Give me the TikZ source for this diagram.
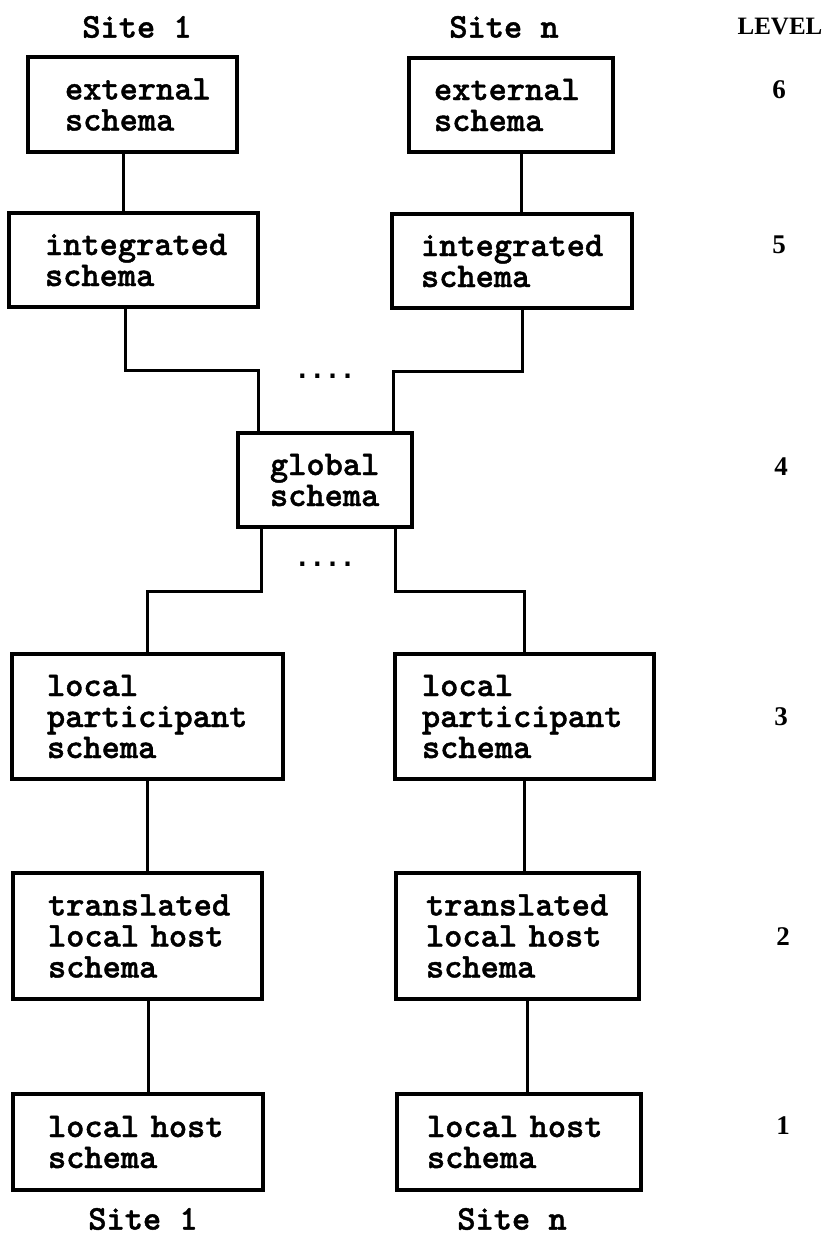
\documentclass[tikz,border=0pt]{standalone}
\usepackage{fontspec}
\newfontfamily\levelfont{Liberation Serif}
\newfontfamily\typewfont{lmmonolt10-bold.otf}[FakeBold=1.2]
\newfontfamily\dotfont{DejaVu Sans Mono}
\tikzset{
  schemabox/.style={draw, line width=3.5pt, inner ysep=0pt, align=left,
    font=\typewfont\fontsize{34.7}{31}\selectfont},
  conn/.style={line width=3pt, line join=miter},
  sitelabel/.style={inner sep=0pt, font=\typewfont\fontsize{34.7}{31}\selectfont},
  levellabel/.style={inner sep=0pt, font=\levelfont\bfseries\fontsize{25}{27}\selectfont},
  levelnum/.style={inner sep=0pt, font=\levelfont\bfseries\fontsize{27}{29}\selectfont},
  dotrow/.style={inner sep=0pt, font=\dotfont\bfseries\fontsize{25}{25}\selectfont}
}
\begin{document}
\begin{tikzpicture}[x=1pt, y=-1pt]
  \fill[white] (0,0) rectangle (828,1235);
  \useasboundingbox (0,0) rectangle (828,1235);

  % column headings and level numbers
  \node[sitelabel] (siteTopA) at (137,27) {Site 1};
  \node[sitelabel] (siteTopB) at (504,27) {Site n};
  \node[levellabel] (levelhead) at (780,27) {LEVEL};
  \node[levelnum] (lv6) at (779,90) {6};
  \node[levelnum] (lv5) at (779,245) {5};
  \node[levelnum] (lv4) at (781,467) {4};
  \node[levelnum] (lv3) at (781,717) {3};
  \node[levelnum] (lv2) at (783,937) {2};
  \node[levelnum] (lv1) at (783,1126) {1};

  % schema boxes
  \node[schemabox, minimum height=95pt, inner xsep=37pt, text width=135pt] (ext1) at (132.5,104.5) {external\\schema};
  \node[schemabox, minimum height=94pt, inner xsep=25pt, text width=154pt] (extn) at (511,105) {external\\schema};
  \node[schemabox, minimum height=94pt, inner xsep=36pt, text width=177pt] (int1) at (133.5,260) {integrated\\schema};
  \node[schemabox, minimum height=94pt, inner xsep=29pt, text width=182pt] (intn) at (512,261) {integrated\\schema};
  \node[schemabox, minimum height=94pt, inner xsep=32pt, text width=110pt] (glob) at (325,480) {global\\schema};
  \node[schemabox, minimum height=125pt, inner xsep=35pt, text width=201pt] (lp1) at (147.5,716.5) {local\\participant\\schema};
  \node[schemabox, minimum height=125pt, inner xsep=27pt, text width=205pt] (lpn) at (524.5,716.5) {local\\participant\\schema};
  \node[schemabox, minimum height=126pt, inner xsep=35pt, text width=179pt] (tr1) at (137.5,936) {translated\\local~host\\schema};
  \node[schemabox, minimum height=126pt, inner xsep=30pt, text width=183pt] (trn) at (517.5,936) {translated\\local~host\\schema};
  \node[schemabox, minimum height=96pt, inner xsep=35pt, text width=180pt] (lh1) at (138,1142) {local~host\\schema};
  \node[schemabox, minimum height=96pt, inner xsep=30pt, text width=184pt] (lhn) at (519,1142) {local~host\\schema};

  \node[sitelabel] (siteBotA) at (143,1219) {Site 1};
  \node[sitelabel] (siteBotB) at (512,1219) {Site n};

  % ellipsis between the two sites
  \node[dotrow] (dotsU) at (325,376) {....};
  \node[dotrow] (dotsL) at (325,564) {....};

  % x positions of the vertical connector runs
  \coordinate (xL1) at (123,0);
  \coordinate (xL2) at (125,0);
  \coordinate (xL3) at (147,0);
  \coordinate (xL4) at (148,0);
  \coordinate (xR1) at (521,0);
  \coordinate (xR2) at (522,0);
  \coordinate (xR3) at (524,0);
  \coordinate (xR4) at (527,0);
  % elbows around the global schema
  \coordinate (jUL) at (258,370);
  \coordinate (jUR) at (393,371);
  \coordinate (jLL) at (261,591);
  \coordinate (jLR) at (395,591);

  \draw[conn] (ext1.south -| xL1) -- (int1.north -| xL1);
  \draw[conn] (extn.south -| xR1) -- (intn.north -| xR1);
  \draw[conn] (int1.south -| xL2) |- (jUL) -- (glob.north -| jUL);
  \draw[conn] (intn.south -| xR2) |- (jUR) -- (glob.north -| jUR);
  \draw[conn] (glob.south -| jLL) -- (jLL) -| (lp1.north -| xL3);
  \draw[conn] (glob.south -| jLR) -- (jLR) -| (lpn.north -| xR3);
  \draw[conn] (lp1.south -| xL3) -- (tr1.north -| xL3);
  \draw[conn] (tr1.south -| xL4) -- (lh1.north -| xL4);
  \draw[conn] (lpn.south -| xR3) -- (trn.north -| xR3);
  \draw[conn] (trn.south -| xR4) -- (lhn.north -| xR4);
\end{tikzpicture}
\end{document}
